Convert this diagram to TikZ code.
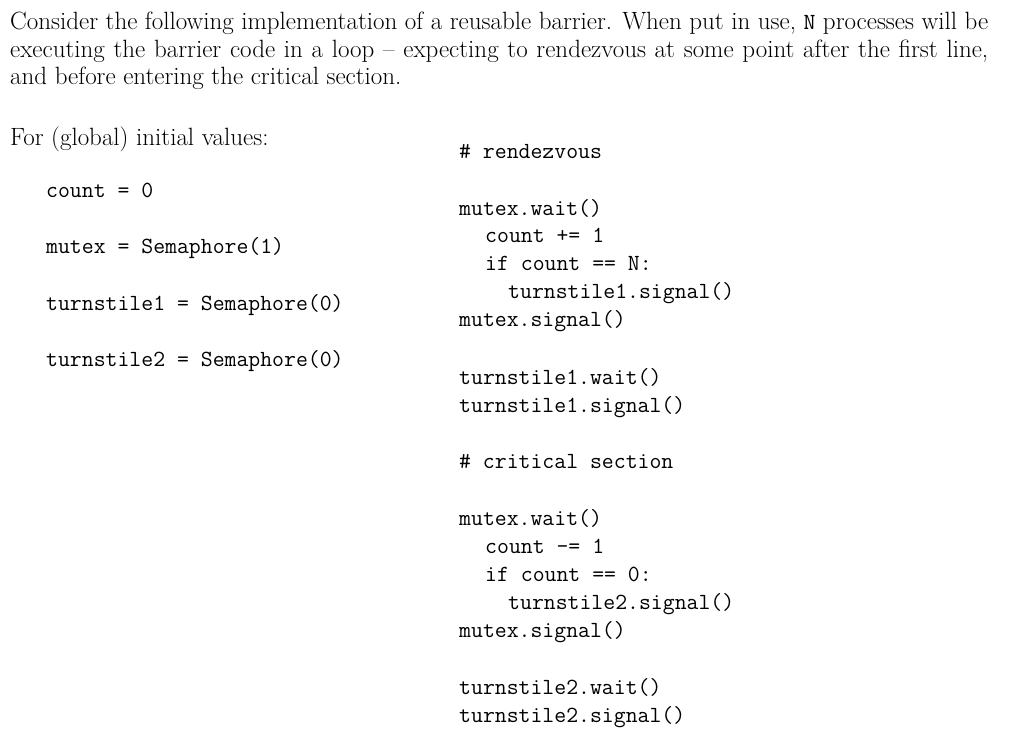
\documentclass[tikz,border=0pt]{standalone}
\begin{document}
\begin{tikzpicture}[x=1pt,y=-1pt,
  t/.style={anchor=base west,inner sep=0pt,font=\fontsize{25}{27.5}\selectfont},
  c/.style={t,font=\fontsize{23.1}{27.5}\selectfont\ttfamily}]
\useasboundingbox (0,0) rectangle (1024,748);
\node[t,anchor=north west,text width=978pt,align=justify] (p) at (10,12)
 {\parindent0pt Consider the following implementation of a reusable barrier. When put in use, {\fontsize{23.1}{27.5}\selectfont\ttfamily N} processes will be executing the barrier code in a loop -- expecting to rendezvous at some point after the first line, and before entering the critical section.};
\node[t] (f) at (10,145) {For (global) initial values:};
\node[c] (a1) at (46,197) {count = 0};
\node[c] (a2) at (46,253) {mutex = Semaphore(1)};
\node[c] (a3) at (46,310) {turnstile1 = Semaphore(0)};
\node[c] (a4) at (46,366) {turnstile2 = Semaphore(0)};
\node[c] (b1) at (459,158) {\# rendezvous};
\node[c] (b2) at (459,215) {mutex.wait()};
\node[c] (b3) at (485,242) {count += 1};
\node[c] (b4) at (485,270) {if count == N:};
\node[c] (b5) at (508,298) {turnstile1.signal()};
\node[c] (b6) at (459,326) {mutex.signal()};
\node[c] (b7) at (459,384) {turnstile1.wait()};
\node[c] (b8) at (459,412) {turnstile1.signal()};
\node[c] (b9) at (459,468) {\# critical section};
\node[c] (b10) at (459,525) {mutex.wait()};
\node[c] (b11) at (485,553) {count -= 1};
\node[c] (b12) at (485,581) {if count == 0:};
\node[c] (b13) at (508,609) {turnstile2.signal()};
\node[c] (b14) at (459,637) {mutex.signal()};
\node[c] (b15) at (459,694) {turnstile2.wait()};
\node[c] (b16) at (459,722) {turnstile2.signal()};
\end{tikzpicture}
\end{document}
